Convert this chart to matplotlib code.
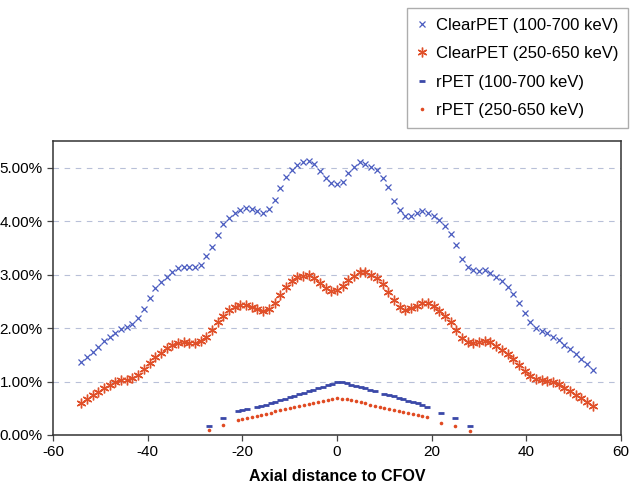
import numpy as np
import matplotlib.pyplot as plt
from matplotlib.ticker import FuncFormatter

plt.rcParams['font.family'] = ['Liberation Sans', 'DejaVu Sans']
plt.rcParams['axes.unicode_minus'] = False

# ClearPET sensitivity profiles (%), sampled every 1.2 mm from -54 to 54
clear_wide = [1.36, 1.46, 1.55, 1.65, 1.76, 1.84, 1.91, 1.98, 2.02, 2.08,
              2.18, 2.35, 2.56, 2.74, 2.86, 2.95, 3.04, 3.12, 3.15, 3.15,
              3.15, 3.18, 3.35, 3.52, 3.74, 3.95, 4.06, 4.15, 4.21, 4.25,
              4.22, 4.18, 4.15, 4.22, 4.40, 4.62, 4.82, 4.95, 5.05, 5.10,
              5.12, 5.07, 4.93, 4.80, 4.72, 4.69, 4.74, 4.89, 5.01, 5.10,
              5.07, 5.02, 4.95, 4.80, 4.63, 4.38, 4.21, 4.09, 4.10, 4.15,
              4.19, 4.16, 4.10, 4.02, 3.90, 3.75, 3.55, 3.30, 3.14, 3.08,
              3.07, 3.08, 3.03, 2.96, 2.88, 2.77, 2.64, 2.46, 2.28, 2.12,
              2.00, 1.95, 1.90, 1.84, 1.77, 1.69, 1.61, 1.52, 1.42, 1.33,
              1.22]
clear_narrow = [0.60, 0.67, 0.74, 0.80, 0.88, 0.94, 0.99, 1.02, 1.03, 1.06,
                1.13, 1.24, 1.35, 1.45, 1.54, 1.62, 1.68, 1.72, 1.73, 1.72,
                1.72, 1.75, 1.83, 1.96, 2.11, 2.23, 2.33, 2.40, 2.43, 2.44,
                2.40, 2.35, 2.31, 2.35, 2.46, 2.62, 2.76, 2.88, 2.95, 2.98,
                2.99, 2.93, 2.84, 2.75, 2.69, 2.71, 2.79, 2.90, 2.98, 3.04,
                3.04, 3.00, 2.93, 2.82, 2.67, 2.52, 2.40, 2.33, 2.37, 2.42,
                2.46, 2.46, 2.41, 2.32, 2.23, 2.12, 1.96, 1.81, 1.74, 1.72,
                1.74, 1.75, 1.73, 1.66, 1.59, 1.51, 1.42, 1.31, 1.20, 1.11,
                1.05, 1.03, 1.01, 1.00, 0.95, 0.88, 0.82, 0.75, 0.69, 0.62,
                0.55]
clear_x = np.linspace(-54, 54, len(clear_wide))

# rPET profiles (%)
rpet_wide_x = [-27, -24, -21, -20, -19, -17, -16, -15, -14, -13, -12, -11,
               -10, -9, -8, -7, -6, -5, -4, -3, -2, -1, 0, 1, 2, 3, 4, 5,
               6, 7, 8, 10, 11, 12, 13, 14, 15, 16, 17, 18, 19, 22, 25, 28]
rpet_wide = [0.17, 0.31, 0.44, 0.46, 0.48, 0.52, 0.55, 0.57, 0.60, 0.62,
             0.65, 0.68, 0.71, 0.73, 0.76, 0.79, 0.82, 0.84, 0.87, 0.90,
             0.93, 0.96, 1.00, 1.00, 0.97, 0.94, 0.92, 0.89, 0.87, 0.84,
             0.82, 0.77, 0.74, 0.72, 0.69, 0.67, 0.64, 0.62, 0.59, 0.56,
             0.53, 0.42, 0.31, 0.16]
rpet_narrow_x = [-27, -24, -21, -20, -19, -18, -17, -16, -15, -14, -13, -12,
                 -11, -10, -9, -8, -7, -6, -5, -4, -3, -2, -1, 0, 1, 2, 3,
                 4, 5, 6, 7, 8, 9, 10, 11, 12, 13, 14, 15, 16, 17, 18, 19,
                 22, 25, 28]
rpet_narrow = [0.09, 0.19, 0.28, 0.30, 0.32, 0.34, 0.36, 0.38, 0.40, 0.42,
               0.44, 0.46, 0.48, 0.50, 0.52, 0.54, 0.56, 0.58, 0.60, 0.62,
               0.64, 0.66, 0.68, 0.69, 0.68, 0.67, 0.65, 0.63, 0.61, 0.59,
               0.57, 0.55, 0.53, 0.51, 0.49, 0.47, 0.45, 0.43, 0.41, 0.39,
               0.37, 0.35, 0.33, 0.23, 0.16, 0.08]

fig = plt.figure(figsize=(6.3, 4.96), dpi=100)
ax = fig.add_axes([0.084, 0.123, 0.902, 0.593])

ax.plot(clear_x, clear_wide, linestyle='none', marker='x', markersize=5,
        markeredgewidth=0.9, color='#4a5cc0', label='ClearPET (100-700 keV)')
ax.plot(clear_x, clear_narrow, linestyle='none', marker=(6, 2, 0), markersize=7,
        markeredgewidth=1.0, color='#e0502a', label='ClearPET (250-650 keV)')
ax.plot(rpet_wide_x, rpet_wide, linestyle='none', marker='_', markersize=4,
        markeredgewidth=2.0, color='#3a48a8', label='rPET (100-700 keV)')
ax.plot(rpet_narrow_x, rpet_narrow, linestyle='none', marker='o', markersize=2.6,
        markeredgewidth=0, color='#e04a22', label='rPET (250-650 keV)')

ax.set_xlim(-60, 60)
ax.set_ylim(0, 5.5)
ax.set_xticks(np.arange(-60, 61, 20))
ax.set_yticks(np.arange(0, 5.1, 1))
ax.yaxis.set_major_formatter(FuncFormatter(lambda v, p: f'{v:.2f}%'))
ax.tick_params(direction='out', length=4, width=0.9, labelsize=11, color='#444444')
ax.grid(axis='y', color='#b8c0d8', linestyle=(0, (5, 5)), linewidth=0.8)
ax.set_axisbelow(True)
for s in ax.spines.values():
    s.set_color('#333333')
    s.set_linewidth(1.1)

ax.set_xlabel('Axial distance to CFOV', fontsize=11.5, fontweight='bold', labelpad=7)

fig.legend(loc='upper right', bbox_to_anchor=(0.997, 0.984), fontsize=12,
           frameon=True, fancybox=False, edgecolor='#999999', labelspacing=0.8,
           handlelength=0.6, handletextpad=0.5, borderpad=0.6, borderaxespad=0)

fig.savefig('out.png', dpi=100)
